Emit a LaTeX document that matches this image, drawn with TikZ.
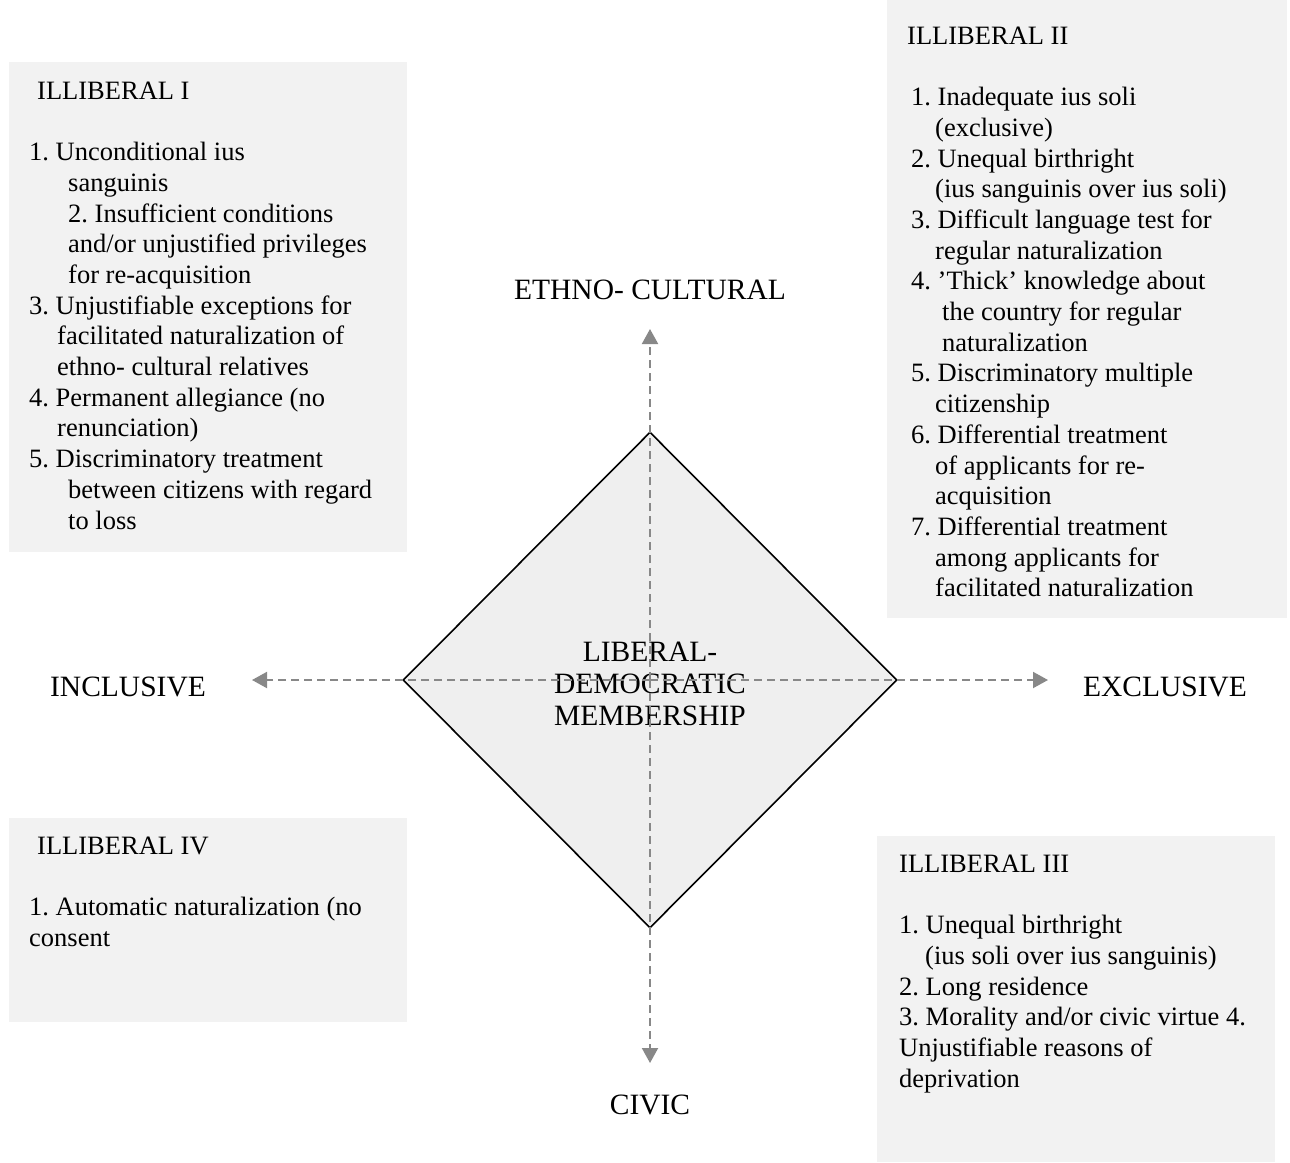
\documentclass[tikz,border=0pt]{standalone}
\usepackage{fontspec}
\setmainfont{Liberation Serif}
\frenchspacing
\usetikzlibrary{arrows.meta,shapes.geometric,positioning}
\definecolor{boxgray}{HTML}{F2F2F2}
\definecolor{coregray}{HTML}{EFEFEF}
\definecolor{axisgray}{HTML}{888888}
\tikzset{
  panel/.style={fill=boxgray, draw=none},
  paneltext/.style={anchor=north west, inner sep=0pt, align=left, font=\fontsize{26.5}{30.7}\selectfont},
  axis/.style={axisgray, line width=2pt, dash pattern=on 8pt off 5pt, -{Triangle[width=16pt,length=15pt]}},
  axislabel/.style={inner sep=0pt, font=\fontsize{29.5}{32}\selectfont}
}
\begin{document}
\begin{tikzpicture}[x=1pt, y=-1pt]
\useasboundingbox (0,0) rectangle (1290,1162);

% Grey panels
\fill[panel] (9,62) rectangle (407,552);
\fill[panel] (887,0) rectangle (1287,618);
\fill[panel] (877,836) rectangle (1275,1162);
\fill[panel] (9,818) rectangle (407,1022);

% Illiberal I
\node[paneltext] (illI) at (29,81.5) {\hspace*{8pt}ILLIBERAL I\\[30.7pt]
1. Unconditional ius\\
\hspace*{39pt}sanguinis\\
\hspace*{39pt}2. Insufficient conditions\\
\hspace*{39pt}and/or unjustified privileges\\
\hspace*{39pt}for re-acquisition\\
3. Unjustifiable exceptions for\\
\hspace*{28pt}facilitated naturalization of\\
\hspace*{28pt}ethno- cultural relatives\\
4. Permanent allegiance (no\\
\hspace*{28pt}renunciation)\\
5. Discriminatory treatment\\
\hspace*{39pt}between citizens with regard\\
\hspace*{39pt}to loss};

% Illiberal II
\node[paneltext] (illII) at (907,26.5) {ILLIBERAL II\\[30.7pt]
\hspace*{4pt}1. Inadequate ius soli\\
\hspace*{28pt}(exclusive)\\
\hspace*{4pt}2. Unequal birthright\\
\hspace*{28pt}(ius sanguinis over ius soli)\\
\hspace*{4pt}3. Difficult language test for\\
\hspace*{28pt}regular naturalization\\
\hspace*{4pt}4. ’Thick’ knowledge about\\
\hspace*{35pt}the country for regular\\
\hspace*{35pt}naturalization\\
\hspace*{4pt}5. Discriminatory multiple\\
\hspace*{28pt}citizenship\\
\hspace*{4pt}6. Differential treatment\\
\hspace*{28pt}of applicants for re-\\
\hspace*{28pt}acquisition\\
\hspace*{4pt}7. Differential treatment\\
\hspace*{28pt}among applicants for\\
\hspace*{28pt}facilitated naturalization};

% Illiberal III
\node[paneltext] (illIII) at (899,854.5) {ILLIBERAL III\\[30.7pt]
1. Unequal birthright\\
\hspace*{26pt}(ius soli over ius sanguinis)\\
2. Long residence\\
3. Morality and/or civic virtue 4.\\
Unjustifiable reasons of\\
deprivation};

% Illiberal IV
\node[paneltext] (illIV) at (29,836.5) {\hspace*{8pt}ILLIBERAL IV\\[30.7pt]
1. Automatic naturalization (no\\
consent};

% Diamond in the middle
\node[diamond, aspect=1, minimum width=494pt, minimum height=496pt, inner sep=0pt,
  draw=black, line width=1.6pt, fill=coregray] (core) at (650,680) {};
\node[axislabel, align=center] (coretext) at (650,684) {LIBERAL-\\DEMOCRATIC\\MEMBERSHIP};

% Axes
\coordinate (ethno) at (650,329);
\coordinate (civic) at (650,1063);
\coordinate (incl) at (252,680);
\coordinate (excl) at (1048,680);
\draw[axis] (core.center) -- (ethno);
\draw[axis] (core.center) -- (civic);
\draw[axis] (core.center) -- (incl);
\draw[axis] (core.center) -- (excl);

% Axis labels
\node[axislabel] (ethnolabel) at (650,290) {ETHNO- CULTURAL};
\node[axislabel] (civiclabel) at (650,1105) {CIVIC};
\node[axislabel] (incllabel) at (128,687) {INCLUSIVE};
\node[axislabel] (excllabel) at (1165,687) {EXCLUSIVE};

\end{tikzpicture}
\end{document}
